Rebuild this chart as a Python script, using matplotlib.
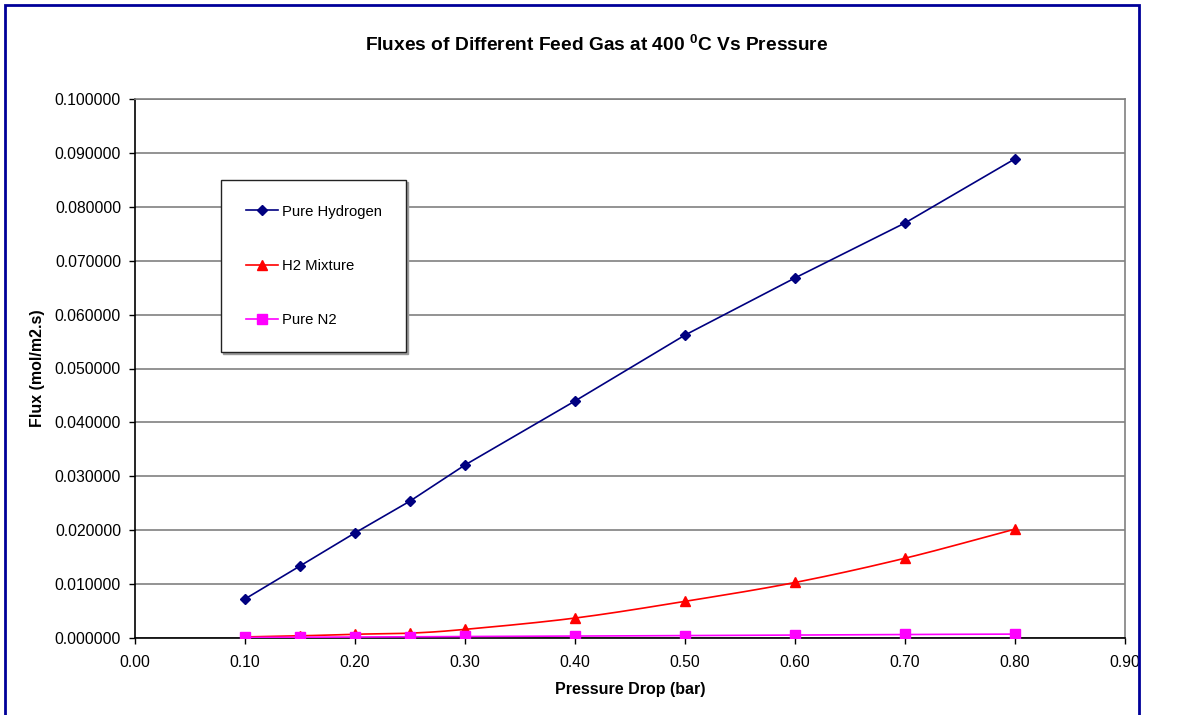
import numpy as np
import matplotlib
matplotlib.use("Agg")
import matplotlib.pyplot as plt
from matplotlib.patches import Rectangle
from matplotlib.ticker import FormatStrFormatter, MultipleLocator

plt.rcParams["font.family"] = ["Liberation Sans", "DejaVu Sans"]
plt.rcParams["mathtext.fontset"] = "custom"
plt.rcParams["mathtext.rm"] = "Liberation Sans"
plt.rcParams["mathtext.bf"] = "Liberation Sans:bold"

pressure = [0.10, 0.15, 0.20, 0.25, 0.30, 0.40, 0.50, 0.60, 0.70, 0.80]
pure_h2 = [0.00724, 0.01336, 0.01950, 0.02540, 0.03210, 0.04397, 0.05620, 0.06680, 0.07700, 0.08890]
h2_mix = [0.00020, 0.00040, 0.00070, 0.00090, 0.00160, 0.00370, 0.00680, 0.01030, 0.01480, 0.02020]
pure_n2 = [0.00010, 0.00015, 0.00020, 0.00022, 0.00028, 0.00035, 0.00045, 0.00055, 0.00065, 0.00072]


def smooth(xs, ys, n=30):
    """Catmull-Rom curve through the points (like a smoothed spreadsheet line)."""
    x = np.asarray(xs, float)
    y = np.asarray(ys, float)
    px = np.concatenate([[2 * x[0] - x[1]], x, [2 * x[-1] - x[-2]]])
    py = np.concatenate([[2 * y[0] - y[1]], y, [2 * y[-1] - y[-2]]])
    outx, outy = [], []
    t = np.linspace(0, 1, n, endpoint=False)
    for i in range(1, len(px) - 2):
        for arr, out in ((px, outx), (py, outy)):
            p0, p1, p2, p3 = arr[i - 1], arr[i], arr[i + 1], arr[i + 2]
            out.extend(0.5 * ((2 * p1) + (-p0 + p2) * t
                              + (2 * p0 - 5 * p1 + 4 * p2 - p3) * t ** 2
                              + (-p0 + 3 * p1 - 3 * p2 + p3) * t ** 3))
    outx.append(x[-1])
    outy.append(y[-1])
    return np.array(outx), np.array(outy)


fig = plt.figure(figsize=(11.94, 7.15), dpi=100)
ax = fig.add_axes([135 / 1194, 1 - 638 / 715, (1125 - 135) / 1194, (638 - 99) / 715])

navy = "#000080"
red = "#FF0000"
magenta = "#FF00FF"

ax.plot(pressure, pure_h2, color=navy, lw=1.2, marker="D", ms=5.5,
        markerfacecolor=navy, markeredgecolor=navy, label="Pure Hydrogen", zorder=4)

sx, sy = smooth(pressure, h2_mix)
ax.plot(sx, sy, color=red, lw=1.2, zorder=3)
ax.plot(pressure, h2_mix, ls="none", marker="^", ms=7, color=red, zorder=4)
ax.plot([], [], color=red, lw=1.2, marker="^", ms=7, label="H2 Mixture")

nx, ny = smooth(pressure, pure_n2)
ax.plot(nx, ny, color=magenta, lw=1.2, zorder=3)
ax.plot(pressure, pure_n2, ls="none", marker="s", ms=6.5, color=magenta, zorder=5)
ax.plot([], [], color=magenta, lw=1.2, marker="s", ms=6.5, label="Pure N2")

ax.set_xlim(0, 0.9)
ax.set_ylim(0, 0.1)
ax.xaxis.set_major_locator(MultipleLocator(0.1))
ax.yaxis.set_major_locator(MultipleLocator(0.01))
ax.xaxis.set_major_formatter(FormatStrFormatter("%.2f"))
ax.yaxis.set_major_formatter(FormatStrFormatter("%.6f"))
ax.tick_params(direction="out", length=4, width=1, labelsize=11.3, colors="black")
ax.tick_params(axis="x", pad=8)
ax.tick_params(axis="y", pad=6)
ax.grid(axis="y", color="#808080", lw=1.2)
ax.set_axisbelow(True)

for side in ("left", "bottom"):
    ax.spines[side].set_color("black")
    ax.spines[side].set_linewidth(1.2)
for side in ("top", "right"):
    ax.spines[side].set_color("#808080")
    ax.spines[side].set_linewidth(1.2)

ax.set_xlabel("Pressure Drop (bar)", fontsize=11.5, fontweight="bold", labelpad=9)
ax.set_ylabel("Flux (mol/m2.s)", fontsize=11.5, fontweight="bold", labelpad=7)

fig.text(0.5, 1 - 45 / 715, r"Fluxes of Different Feed Gas at 400 $^{\mathbf{0}}$C Vs Pressure",
         ha="center", va="center", fontsize=13.8, fontweight="bold")

leg = ax.legend(loc="upper left", bbox_to_anchor=((221 - 135) / 990, (638 - 180) / 539),
                frameon=True, fancybox=False, fontsize=10.7, labelspacing=2.72,
                handlelength=2.2, borderpad=1.65, borderaxespad=0, handletextpad=0.25,
                shadow={"ox": 1.2, "oy": -1.2, "color": "#9a9a9a", "alpha": 1.0})
leg.get_frame().set_edgecolor("#222222")
leg.get_frame().set_linewidth(1.0)

# outer chart border
fig.patches.append(Rectangle((5 / 1194, -0.05), (1139 - 5) / 1194, 1 - 5 / 715 + 0.05,
                             transform=fig.transFigure, fill=False,
                             edgecolor="#000099", lw=2, zorder=10))

fig.savefig("out.png", dpi=100, facecolor="white")
